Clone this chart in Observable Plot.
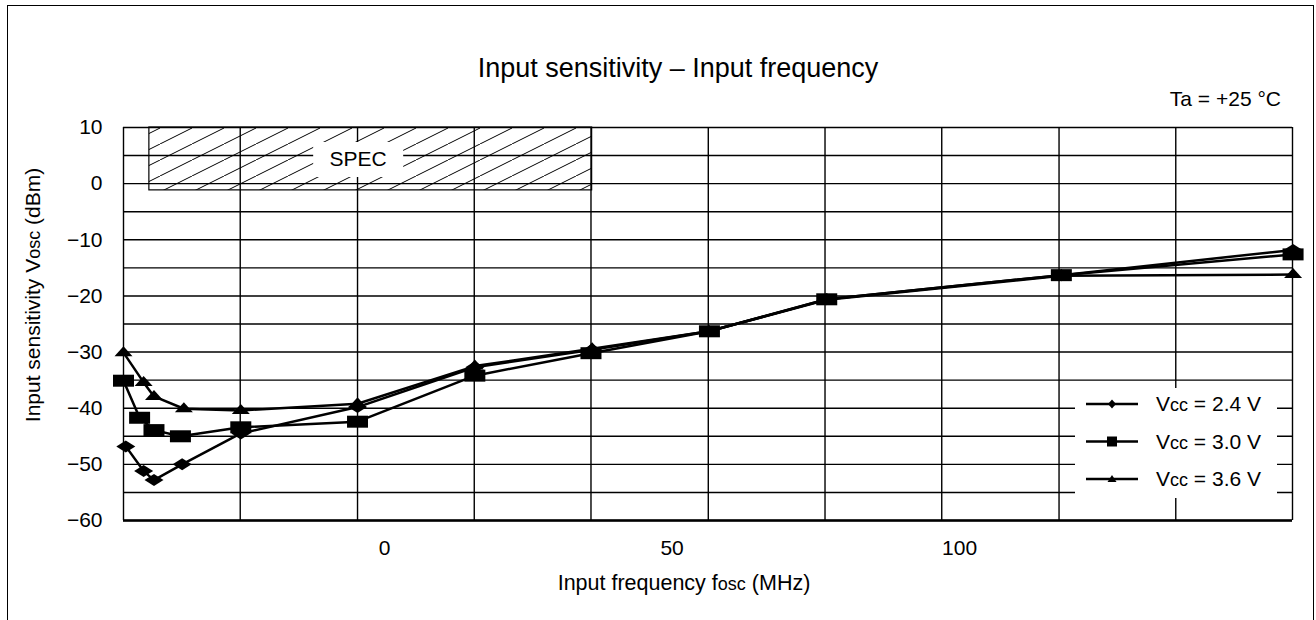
<!DOCTYPE html>
<html>
<head>
<meta charset="utf-8">
<script src="https://cdn.jsdelivr.net/npm/d3@7"></script>
<script src="https://cdn.jsdelivr.net/npm/@observablehq/plot@0.6"></script>
<style>
  html, body { margin: 0; padding: 0; background: #fff; }
  #wrap { position: relative; width: 1316px; height: 620px; overflow: hidden; background: #fff; }
  #chart { position: absolute; left: 0; top: 0; }
  #border { position: absolute; left: 7px; top: 5px; width: 1307px; height: 700px; border: 1px solid #000; box-sizing: border-box; pointer-events: none; }
</style>
</head>
<body>
<div id="wrap"><div id="chart"></div><div id="border"></div></div>
<script>
// ---------- data ----------
const seriesLabels = ["2.4", "3.0", "3.6"];

const freq24 = [-45.0, -41.9, -40.1, -35.2, -25.0, -4.7, 15.7, 36.1, 56.4, 76.9, 117.7, 158.0];
const sens24 = [-46.8, -51.2, -52.8, -50.0, -44.5, -39.8, -32.7, -29.6, -26.3, -20.6, -16.3, -11.8];

const freq30 = [-45.4, -42.6, -40.1, -35.5, -25.0, -4.7, 15.7, 35.9, 56.5, 76.9, 117.7, 158.0];
const sens30 = [-35.1, -41.7, -43.9, -45.0, -43.4, -42.4, -34.2, -30.2, -26.3, -20.6, -16.3, -12.6];

const freq36 = [-45.4, -41.9, -40.1, -34.9, -25.0, -4.7, 15.7, 36.1, 56.4, 76.9, 117.7, 158.0];
const sens36 = [-30.1, -35.4, -37.9, -40.1, -40.4, -39.2, -32.5, -29.4, -26.3, -20.7, -16.4, -16.2];

const xDomain = [-45.4, 157.9];
const yDomain = [-60, 10];
const xTicks = [0, 50, 100];
const yTicks = [10, 0, -10, -20, -30, -40, -50, -60];
const yGrid = [10, 5, 0, -5, -10, -15, -20, -25, -30, -35, -40, -45, -50, -55, -60];
const xGrid = [-45.4, -25.1, -4.7, 15.6, 35.9, 56.3, 76.6, 96.9, 117.3, 137.6, 157.9];

const specX = [-40.9, 36.1];
const specY = [-1.2, 10];
const specLabel = "SPEC";
const specLabelPos = [-4.5, 4.3];

const titleText = "Input sensitivity \u2013 Input frequency";
const condText = "Ta = +25 \u00B0C";

// ---------- build tables ----------
const toRows = (f, s, label) => f.map((x, i) => ({x, y: s[i], series: label}));
const rows24 = toRows(freq24, sens24, seriesLabels[0]);
const rows30 = toRows(freq30, sens30, seriesLabels[1]);
const rows36 = toRows(freq36, sens36, seriesLabels[2]);
const specBox = [{x1: specX[0], x2: specX[1], y1: specY[0], y2: specY[1]}];

const FONT = "'Liberation Sans', Arial, Helvetica, sans-serif";

// stretched markers as in the reference
const diamondSym = {draw(c) { c.moveTo(0, -6); c.lineTo(9.5, 0); c.lineTo(0, 6); c.lineTo(-9.5, 0); c.closePath(); }};
const rectSym = {draw(c) { c.moveTo(-10.5, -6); c.lineTo(10.5, -6); c.lineTo(10.5, 6); c.lineTo(-10.5, 6); c.closePath(); }};
const triSym = {draw(c) { c.moveTo(0, -6.5); c.lineTo(9, 3.5); c.lineTo(-9, 3.5); c.closePath(); }};

// small legend markers
const legendSyms = [
  "M0,-4.5L4,0L0,4.5L-4,0Z",
  "M-5,-5L5,-5L5,5L-5,5Z",
  "M0,-4L4.5,3L-4.5,3Z"
];

function decorations(index, scales, values, dims) {
  const g = d3.create("svg:g");
  const defs = g.append("defs");
  const pat = defs.append("pattern").attr("id", "hatch").attr("patternUnits", "userSpaceOnUse")
    .attr("width", 32).attr("height", 16);
  pat.append("path").attr("d", "M-8,20L40,-4").attr("stroke", "black").attr("stroke-width", 1);
  return g.node();
}

function annotations(index, scales, values, dims) {
  const L = dims.marginLeft, T = dims.marginTop;
  const R = dims.width - dims.marginRight, B = dims.height - dims.marginBottom;
  const g = d3.create("svg:g").attr("font-family", FONT).attr("fill", "black").attr("text-anchor", "start");

  // SPEC label with white box
  const sx = scales.x(specLabelPos[0]), sy = scales.y(specLabelPos[1]);
  g.append("rect").attr("x", sx - 45).attr("y", sy - 17).attr("width", 90).attr("height", 35).attr("fill", "white");
  g.append("text").attr("x", sx).attr("y", sy).attr("dy", "0.35em").attr("text-anchor", "middle")
    .attr("font-size", 21).text(specLabel);

  // title
  g.append("text").attr("x", 678).attr("y", T - 50).attr("text-anchor", "middle")
    .attr("font-size", 27).text(titleText);
  // condition
  g.append("text").attr("x", 1281).attr("y", T - 21).attr("text-anchor", "end")
    .attr("font-size", 21).text(condText);

  // y label
  const yl = g.append("text").attr("transform", `translate(${L - 83},295) rotate(-90)`)
    .attr("text-anchor", "middle").attr("font-size", 21);
  yl.append("tspan").text("Input sensitivity V");
  yl.append("tspan").attr("font-size", 18).text("osc");
  yl.append("tspan").text(" (dBm)");

  // x label
  const xl = g.append("text").attr("x", 684).attr("y", B + 70).attr("text-anchor", "middle").attr("font-size", 21.5);
  xl.append("tspan").text("Input frequency f");
  xl.append("tspan").attr("font-size", 18).text("osc");
  xl.append("tspan").text(" (MHz)");

  // legend
  const lx = R - 217, ly = B - 132;
  g.append("rect").attr("x", lx).attr("y", ly).attr("width", 202).attr("height", 110).attr("fill", "white");
  seriesLabels.forEach((lab, i) => {
    const cy = ly + 16 + i * 37.5;
    g.append("line").attr("x1", lx + 11).attr("x2", lx + 63).attr("y1", cy).attr("y2", cy)
      .attr("stroke", "black").attr("stroke-width", 2.5);
    g.append("path").attr("d", legendSyms[i]).attr("transform", `translate(${lx + 37},${cy})`).attr("fill", "black");
    const t = g.append("text").attr("x", lx + 81).attr("y", cy).attr("dy", "0.35em")
      .attr("text-anchor", "start").attr("font-size", 21);
    t.append("tspan").text("V");
    t.append("tspan").attr("font-size", 18).text("cc");
    t.append("tspan").text(` = ${lab} V`);
  });
  return g.node();
}

const lineOpts = {x: "x", y: "y", stroke: "black", strokeWidth: 2.5, strokeLinejoin: "round"};

const chart = Plot.plot({
  width: 1316,
  height: 620,
  marginLeft: 123,
  marginRight: 24,
  marginTop: 127,
  marginBottom: 100,
  style: {fontFamily: FONT, fontSize: "21px", color: "black", background: "transparent"},
  x: {domain: xDomain},
  y: {domain: yDomain},
  marks: [
    decorations,
    Plot.ruleY(yGrid, {stroke: "black", strokeWidth: 1.4}),
    Plot.ruleX(xGrid, {stroke: "black", strokeWidth: 1.4}),
    Plot.rect(specBox, {x1: "x1", x2: "x2", y1: "y1", y2: "y2", fill: "url(#hatch)", stroke: "black", strokeWidth: 1.2}),
    Plot.line(rows24, lineOpts),
    Plot.line(rows30, lineOpts),
    Plot.line(rows36, lineOpts),
    Plot.dot(rows24, {x: "x", y: "y", symbol: diamondSym, fill: "black", stroke: "none"}),
    Plot.dot(rows30, {x: "x", y: "y", symbol: rectSym, fill: "black", stroke: "none"}),
    Plot.dot(rows36, {x: "x", y: "y", symbol: triSym, fill: "black", stroke: "none"}),
    Plot.ruleY([yDomain[0]], {stroke: "black", strokeWidth: 2.6}),
    Plot.axisX(xTicks, {tickSize: 0, tickPadding: 20, fontSize: 21, label: null, tickFormat: d => String(d)}),
    Plot.axisY(yTicks, {tickSize: 0, tickPadding: 21, fontSize: 21, label: null}),
    annotations
  ]
});
document.getElementById("chart").appendChild(chart);
</script>
</body>
</html>
